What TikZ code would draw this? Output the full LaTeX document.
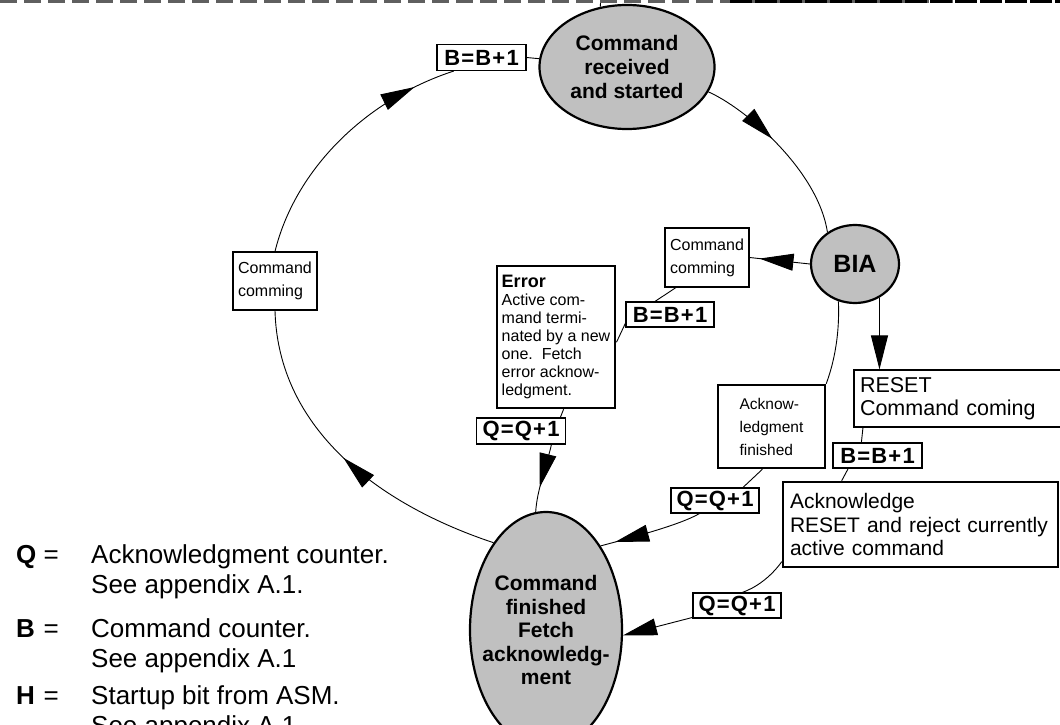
\documentclass[tikz,border=0pt]{standalone}
\usepackage{fontspec}
\setmainfont{Liberation Sans}
\usetikzlibrary{shapes.geometric,arrows.meta,decorations.markings,backgrounds}
\definecolor{stategray}{RGB}{192,192,192}
\definecolor{dashgray}{RGB}{95,95,95}
\newcommand\fsz[2]{\fontsize{#1bp}{#2bp}\selectfont}
\newcommand\plusone[1]{#1\kern1.2bp=\kern1.2bp#1\kern1.2bp+\kern1.2bp1}
\tikzset{bigtip/.tip={Triangle[length=34bp,width=17bp]}}

\begin{document}
\begin{tikzpicture}[x=1bp,y=-1bp,
  statenode/.style={ellipse, draw, line width=2.2bp, fill=stategray, inner sep=0pt},
  statetext/.style={align=center, font=\fsz{21}{24}\bfseries, inner sep=0pt},
  notebox/.style={draw, line width=1.1bp, fill=white, align=left, inner sep=0pt},
  heavybox/.style={notebox, line width=2.4bp},
  cntbox/.style={draw, line width=1.1bp, fill=white, font=\fsz{22}{24}\bfseries,
    minimum width=89bp, minimum height=26bp, inner sep=0pt},
  link/.style={line width=0.9bp},
  midarrow/.style={link, postaction={decorate},
    decoration={markings, mark=at position #1 with {\arrow{bigtip}}}},
  legendtxt/.style={anchor=base west, inner sep=0pt, font=\fsz{26}{30}},
]
\useasboundingbox (0,0) rectangle (1060,725);

% frame edge along the top
\coordinate (frameL) at (0,1.3);
\coordinate (frameM) at (730,1.3);
\coordinate (frameR) at (1060,1.3);
\draw[line width=3bp, dashgray, dash pattern=on 17bp off 7bp] (frameL) -- (frameR);
\draw[line width=3bp, black, dash pattern=on 22bp off 3bp] (frameM) -- (frameR);

% states
\node[statenode, minimum width=175bp, minimum height=124bp,
  label={[statetext]center:Command\\received\\and started}] (recv) at (627,67) {};
\node[statenode, minimum width=88bp, minimum height=78bp,
  font=\fsz{25}{28}\bfseries] (bia) at (855,264) {BIA};
\node[statenode, minimum width=152bp, minimum height=236bp,
  label={[statetext, font=\fsz{21}{23.5}\bfseries]center:Command\\finished\\Fetch\\acknowledg-\\ment}] (fin) at (546,630) {};

% transition notes and counters
\node[cntbox] (bRecv) at (481.5,57.5) {\plusone{B}};
\node[notebox, minimum width=84bp, minimum height=58bp, font=\fsz{16}{23}] (cc1) at (275,281) {Command\\comming};
\node[notebox, minimum width=84bp, minimum height=59bp, font=\fsz{16}{23}] (cc2) at (707,257.5) {Command\\comming};
\node[cntbox, minimum width=88bp, minimum height=25bp] (bErr) at (670,314.5) {\plusone{B}};
\node[heavybox, minimum width=118bp, minimum height=142bp, inner xsep=5bp, font=\fsz{16}{18}] (err) at (556,337)
  {{\fsz{18}{18}\bfseries Error}\\Active com-\\mand termi-\\nated by a new\\one.~~Fetch\\error acknow-\\ledgment.};
\node[cntbox] (qErr) at (521,431) {\plusone{Q}};
\node[heavybox, minimum width=107bp, minimum height=83bp, font=\fsz{15.5}{23}] (ackfin) at (771.5,426.5)
  {Acknow-\\ledgment\\finished};
\node[cntbox, minimum width=88bp, minimum height=25bp] (qAck) at (715,500.5) {\plusone{Q}};
\node[notebox, text width=196bp, inner xsep=6bp, minimum height=57bp, font=\fsz{21.5}{23}] (reset) at (958,398.5)
  {RESET\\Command coming};
\node[cntbox, minimum height=25bp] (bReset) at (877.5,455.5) {\plusone{B}};
\node[heavybox, text width=261bp, inner xsep=7bp, minimum height=85bp, font=\fsz{21}{23.5}] (ackn) at (920.5,524.5)
  {Acknowledge\\RESET and reject currently\\active command};
\node[cntbox, minimum width=88bp, minimum height=25bp] (qRst) at (737,605.5) {\plusone{Q}};

% transitions
\begin{scope}[on background layer]
  \coordinate (topend) at (601,-3);
  \draw[link] (recv.114) -- (topend);
  \draw[link] (bRecv.east) -- (recv);
  \draw[midarrow=0.84] (cc1.north) .. controls (295,170) and (365,100) .. (bRecv.206);
  \draw[midarrow=0.51] (fin.121) .. controls (380,505) and (278,430) .. (cc1.south);
  \draw[midarrow=0.42] (recv.-17) .. controls (745,108) and (818,170) .. (bia.131);
  \draw[midarrow=-10bp] (bia.west) -- (cc2.east);
  \draw[link] (cc2.224) -- (bErr.139);
  \draw[link] (bErr.191) -- (err.-5);
  \draw[link] (err.-84) -- (qErr.19);
  \draw[midarrow=0.64] (qErr.-24) .. controls (546,468) and (537,490) .. (fin.95);
  \draw[link] (bia.246) .. controls (840,340) and (832,368) .. (ackfin.north east);
  \draw[link] (ackfin.-102) -- (qAck.25);
  \draw[midarrow=-15bp] (qAck.220) .. controls (680,525) and (630,538) .. (fin.57);
  \draw[link, -bigtip] (bia.-54) -- (bia.-54 |- reset.north);
  \draw[link] (reset.197) -- (bReset.141);
  \draw[link] (bReset.204) -- (ackn.151);
  \draw[link] (ackn.195) .. controls (770,578) and (755,588) .. (qRst.68);
  \draw[link, -bigtip] (qRst.195) -- (fin.-4);
\end{scope}

% legend
\node[legendtxt, font=\fsz{26}{30}\bfseries] (legQ) at (16,563) {Q};
\node[legendtxt] (legQeq) at (43.5,563) {=};
\node[legendtxt] (legQa) at (91,563) {Acknowledgment counter.};
\node[legendtxt] (legQb) at (91,593) {See appendix A.1.};
\node[legendtxt, font=\fsz{26}{30}\bfseries] (legB) at (16,637) {B};
\node[legendtxt] (legBeq) at (43.5,637) {=};
\node[legendtxt] (legBa) at (91,637) {Command counter.};
\node[legendtxt] (legBb) at (91,667) {See appendix A.1};
\node[legendtxt, font=\fsz{26}{30}\bfseries] (legH) at (16,704) {H};
\node[legendtxt] (legHeq) at (43.5,704) {=};
\node[legendtxt] (legHa) at (91,704) {Startup bit from ASM.};
\node[legendtxt] (legHb) at (91,734) {See appendix A.1};
\end{tikzpicture}
\end{document}
